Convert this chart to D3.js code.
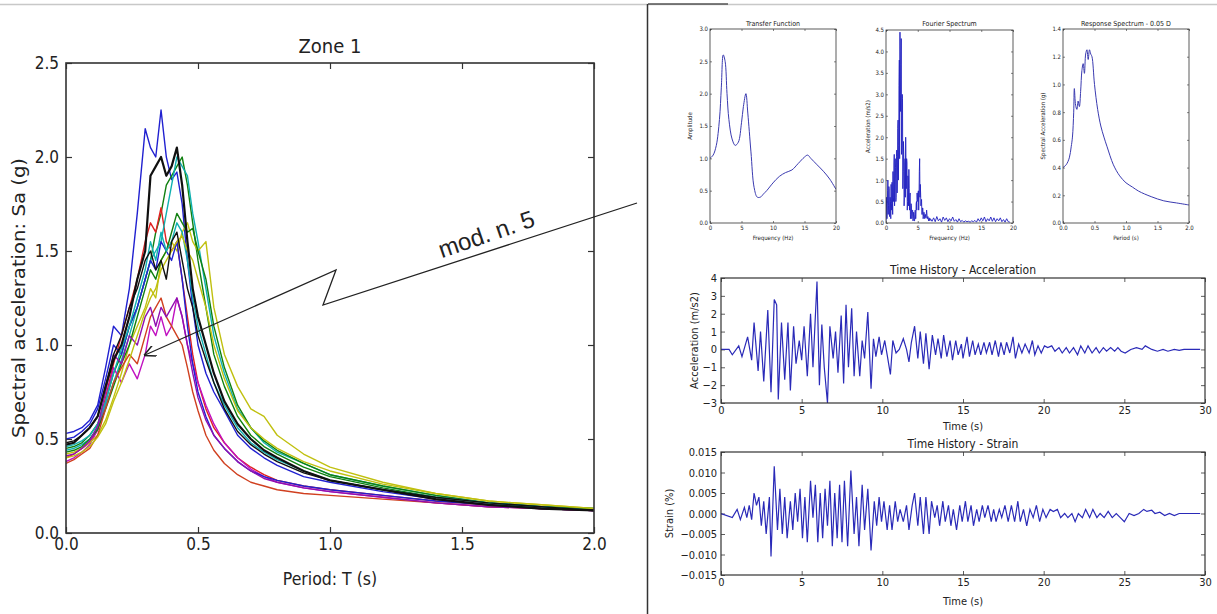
<!DOCTYPE html>
<html><head><meta charset="utf-8">
<script src="https://cdn.jsdelivr.net/npm/d3@7"></script>
<style>
body{margin:0;background:#fff;}
text{font-family:'DejaVu Sans Condensed','DejaVu Sans',sans-serif;fill:#222;}
</style></head>
<body>
<script>
// ---------- Zone 1 response spectra ----------
const periods = [0,0.03,0.06,0.09,0.12,0.15,0.18,0.21,0.24,0.27,0.30,0.32,0.34,0.36,0.38,0.40,0.42,0.44,0.46,0.48,0.50,0.53,0.56,0.60,0.65,0.70,0.75,0.80,0.90,1.0,1.2,1.4,1.6,1.8,2.0];
const s01 = [0.53,0.54,0.56,0.60,0.68,0.88,1.10,1.05,1.30,1.70,2.15,2.05,2.00,2.25,2.00,1.88,1.92,1.75,1.45,1.20,1.00,0.85,0.75,0.65,0.52,0.45,0.40,0.36,0.30,0.27,0.22,0.18,0.15,0.13,0.12];
const s02 = [0.45,0.46,0.48,0.52,0.58,0.70,0.85,0.95,1.10,1.20,1.35,1.45,1.60,1.70,1.85,1.90,1.95,2.00,1.85,1.65,1.45,1.20,0.95,0.78,0.62,0.52,0.46,0.42,0.35,0.30,0.24,0.19,0.16,0.14,0.12];
const s03 = [0.40,0.42,0.45,0.48,0.55,0.72,0.90,1.05,1.20,1.35,1.55,1.65,1.60,1.73,1.55,1.50,1.55,1.35,1.15,0.95,0.80,0.66,0.56,0.48,0.40,0.35,0.31,0.28,0.25,0.23,0.20,0.17,0.15,0.13,0.12];
const s04 = [0.44,0.45,0.47,0.50,0.56,0.68,0.80,0.92,1.05,1.20,1.35,1.45,1.50,1.55,1.70,1.85,2.00,1.95,1.90,1.70,1.55,1.30,1.05,0.85,0.66,0.56,0.48,0.43,0.37,0.31,0.25,0.20,0.16,0.14,0.13];
const s05 = [0.38,0.40,0.43,0.47,0.55,0.70,0.88,0.80,0.90,0.82,0.95,1.10,1.05,1.15,1.05,1.10,1.25,1.15,1.00,0.90,0.80,0.68,0.58,0.48,0.40,0.34,0.30,0.27,0.24,0.22,0.19,0.16,0.14,0.13,0.12];
const s06 = [0.42,0.43,0.45,0.48,0.52,0.60,0.72,0.85,1.00,1.10,1.20,1.30,1.25,1.45,1.50,1.55,1.50,1.60,1.65,1.55,1.50,1.55,1.20,0.95,0.78,0.66,0.62,0.52,0.42,0.35,0.27,0.21,0.17,0.15,0.13];
const s07 = [0.47,0.48,0.52,0.56,0.62,0.78,0.92,1.00,1.15,1.35,1.50,1.90,1.95,2.00,1.90,1.95,2.05,1.85,1.55,1.30,1.15,1.00,0.85,0.70,0.58,0.50,0.44,0.40,0.33,0.28,0.23,0.18,0.15,0.13,0.12];
const s08 = [0.50,0.51,0.54,0.58,0.66,0.82,1.00,0.95,1.10,1.20,1.35,1.45,1.40,1.55,1.50,1.45,1.55,1.35,1.10,0.90,0.75,0.62,0.52,0.45,0.38,0.33,0.30,0.28,0.25,0.23,0.20,0.17,0.15,0.13,0.12];
const s09 = [0.43,0.44,0.46,0.50,0.55,0.66,0.78,0.90,1.00,1.15,1.30,1.40,1.35,1.45,1.50,1.60,1.70,1.65,1.60,1.62,1.50,1.35,1.10,0.88,0.68,0.56,0.49,0.44,0.37,0.31,0.25,0.20,0.16,0.14,0.13];
const s10 = [0.37,0.39,0.42,0.45,0.52,0.66,0.80,0.88,0.95,0.90,1.05,1.15,1.20,1.25,1.15,1.10,1.05,1.00,0.88,0.75,0.65,0.52,0.44,0.37,0.31,0.27,0.25,0.23,0.21,0.20,0.18,0.16,0.14,0.13,0.12];
const s11 = [0.46,0.47,0.49,0.52,0.58,0.70,0.85,0.98,1.10,1.25,1.40,1.55,1.45,1.60,1.50,1.55,1.65,1.60,1.45,1.25,1.10,0.95,0.80,0.68,0.56,0.48,0.43,0.39,0.33,0.28,0.23,0.19,0.16,0.14,0.12];
const s12 = [0.41,0.42,0.45,0.49,0.57,0.75,0.95,0.90,1.05,1.00,1.15,1.20,1.10,1.20,1.15,1.20,1.25,1.15,1.00,0.85,0.72,0.60,0.52,0.45,0.38,0.33,0.29,0.27,0.24,0.22,0.19,0.16,0.14,0.13,0.12];
const s13 = [0.40,0.41,0.43,0.46,0.51,0.58,0.70,0.80,0.92,1.05,1.18,1.25,1.30,1.40,1.45,1.50,1.55,1.58,1.50,1.45,1.35,1.20,1.00,0.82,0.65,0.56,0.50,0.45,0.38,0.33,0.26,0.21,0.17,0.15,0.13];
const s14 = [0.48,0.49,0.52,0.56,0.62,0.78,0.95,1.05,1.20,1.30,1.45,1.50,1.40,1.45,1.35,1.55,1.60,1.45,1.30,1.20,1.05,0.92,0.80,0.66,0.54,0.47,0.42,0.38,0.32,0.28,0.23,0.19,0.16,0.14,0.12];
const zoneSeries = [s01,s02,s03,s04,s05,s06,s08,s09,s10,s11,s12,s13,s14,s07];
const zoneColors = ['#2020d0','#108010','#e02020','#10b0b0','#c010c0','#c0c010','#2020d0','#108010','#d04020','#10b0b0','#9010b0','#c0c010','#101010','#101010'];
const zoneTicks = [0,0.5,1.0,1.5,2.0];
const zoneYTicks = [0,0.5,1.0,1.5,2.0,2.5];

// ---------- Transfer function ----------
const tfFreq = [0,0.5,1,1.5,1.8,2.1,2.4,2.7,3,3.5,4,4.5,5,5.3,5.7,6,6.5,7,7.5,8,8.5,9,10,11,12,13,14,15,15.5,16,17,18,19,20];
const tfAmp  = [1.0,1.05,1.2,1.6,2.1,2.6,2.5,2.0,1.6,1.3,1.2,1.25,1.55,1.8,2.0,1.7,1.1,0.55,0.4,0.4,0.45,0.5,0.62,0.72,0.78,0.82,0.92,1.02,1.05,1.0,0.9,0.8,0.68,0.52];

// ---------- Fourier spectrum ----------
const fsFreq = [0,0.05,0.1,0.15,0.2,0.25,0.3,0.35,0.4,0.45,0.5,0.55,0.6,0.65,0.7,0.75,0.8,0.85,0.9,0.95,
  1,1.05,1.1,1.15,1.2,1.25,1.3,1.35,1.4,1.45,1.5,1.55,1.6,1.65,1.7,1.75,1.8,1.85,1.9,1.95,
  2,2.05,2.1,2.15,2.2,2.25,2.3,2.35,2.4,2.45,2.5,2.55,2.6,2.65,2.7,2.75,2.8,2.85,2.9,2.95,
  3,3.05,3.1,3.15,3.2,3.25,3.3,3.35,3.4,3.45,3.5,3.55,3.6,3.65,3.7,3.75,3.8,3.85,3.9,3.95,
  4,4.05,4.1,4.15,4.2,4.25,4.3,4.35,4.4,4.45,4.5,4.55,4.6,4.65,4.7,4.75,4.8,4.85,4.9,4.95,
  5,5.05,5.1,5.15,5.2,5.25,5.3,5.35,5.4,5.45,5.5,5.55,5.6,5.65,5.7,5.75,5.8,5.85,5.9,5.95,
  6,6.1,6.2,6.3,6.4,6.5,6.6,6.7,6.8,6.9,7.0,
  7.25,7.5,7.75,8,8.25,8.5,8.75,9,9.25,9.5,9.75,10,10.25,10.5,10.75,11,11.25,11.5,11.75,12,12.25,12.5,12.75,13,13.25,13.5,13.75,14,14.25,14.5,14.75,15,15.25,15.5,15.75,16,16.25,16.5,16.75,17,17.25,17.5,17.75,18,18.25,18.5,18.75,19,19.25,19.5];
const fsAmp = [0.05,0.35,0.6,0.1,0.3,0.75,1.0,0.2,0.4,0.85,0.8,0.15,0.2,0.6,0.5,0.1,0.9,0.45,0.3,0.95,
  0.7,0.2,1.2,0.6,0.5,1.4,1.6,0.4,0.9,1.5,1.3,0.5,0.6,1.55,1.7,0.7,1.0,2.2,2.4,1.0,
  1.8,3.2,3.8,1.5,4.45,3.0,2.6,3.7,4.3,1.6,1.8,3.0,2.9,0.8,1.2,1.9,1.6,0.4,0.6,1.4,
  1.5,0.6,2.0,1.2,0.8,1.5,1.4,0.3,0.5,1.1,1.0,0.4,1.25,0.8,0.3,0.6,0.7,0.1,0.2,0.45,
  0.4,0.1,0.15,0.3,0.3,0.05,0.1,0.25,0.2,0.05,0.05,0.2,0.3,0.1,0.1,0.45,0.5,0.3,0.7,0.55,
  0.5,0.7,0.75,0.3,0.6,1.2,1.5,0.6,0.9,0.7,0.4,0.5,0.55,0.2,0.2,0.35,0.35,0.1,0.15,0.25,
  0.25,0.1,0.2,0.12,0.3,0.1,0.15,0.05,0.12,0.05,0.1,
  0.04,0.12,0.03,0.15,0.05,0.1,0.02,0.14,0.06,0.12,0.03,0.1,0.05,0.14,0.04,0.08,0.02,0.1,0.03,0.06,0.02,0.05,0.03,0.04,0.02,0.05,0.03,0.06,0.02,0.1,0.04,0.12,0.05,0.14,0.03,0.1,0.05,0.14,0.04,0.12,0.03,0.1,0.05,0.12,0.03,0.08,0.02,0.1,0.03,0.02];

// ---------- Response spectrum 0.05 D ----------
const rsPeriod = [0,0.05,0.1,0.13,0.15,0.17,0.18,0.2,0.22,0.24,0.26,0.28,0.3,0.32,0.34,0.36,0.38,0.4,0.42,0.44,0.46,0.5,0.55,0.6,0.65,0.7,0.8,0.9,1.0,1.1,1.2,1.4,1.6,1.8,2.0];
const rsSa = [0.40,0.42,0.47,0.55,0.62,0.80,0.97,0.85,0.82,0.88,0.84,0.95,1.10,1.15,1.08,1.22,1.25,1.18,1.25,1.22,1.20,1.00,0.82,0.70,0.62,0.55,0.42,0.34,0.29,0.26,0.23,0.19,0.16,0.145,0.13];

// ---------- Time history: acceleration (extrema) ----------
const accTime = [0,0.5,0.7,1.1,1.3,1.65,1.9,2.05,2.3,2.45,2.65,2.9,3.1,3.3,3.45,3.55,3.75,3.95,4.15,4.3,4.5,4.65,4.85,5.0,5.15,5.35,5.55,5.7,5.95,6.1,6.25,6.4,6.6,6.75,6.95,7.1,7.25,7.45,7.6,7.75,7.9,8.1,8.25,8.4,8.6,8.75,8.9,9.1,9.3,9.45,9.6,9.8,9.95,10.15,10.3,10.5,10.65,10.85,11.05,11.3,11.5,11.65,11.8,12.0,12.2,12.35,12.55,12.7,12.9,13.1,13.3,13.45,13.65,13.8,14.0,14.2,14.35,14.55,14.7,14.9,15.0,15.25,15.4,15.6,15.75,15.95,16.1,16.3,16.45,16.65,16.8,17.0,17.2,17.35,17.55,17.7,17.9,18.1,18.25,18.45,18.65,18.85,19.1,19.3,19.45,19.65,19.85,20.05,20.25,20.5,20.7,20.95,21.15,21.4,21.6,21.85,22.1,22.3,22.55,22.75,23.0,23.25,23.45,23.7,23.9,24.15,24.4,24.6,24.8,25.05,25.4,25.75,26.1,26.3,26.7,27.05,27.4,27.7,28.1,28.4,28.7,29.7];
const accVal  = [0,0,-0.3,0.2,-0.4,0.7,-0.6,1.5,-1.2,1.0,-1.8,2.2,-2.4,2.8,2.5,-2.8,1.5,-1.7,1.5,-2.3,1.3,-0.8,0.5,-0.6,1.3,-1.5,2.0,-1.0,3.8,-2.0,1.4,-1.0,-3.0,1.3,-0.5,1.0,-1.3,1.9,-1.9,2.5,-1.0,2.3,-1.5,1.0,-1.5,0.5,-0.5,2.1,-2.2,0.6,-0.4,0.7,-0.3,0.5,-0.3,-1.4,0.5,-0.2,0.0,0.6,0.0,-0.7,0.4,1.3,-0.5,1.0,-0.8,0.9,-1.1,0.8,-0.3,0.6,-0.5,0.8,-0.4,0.5,-0.6,0.5,-0.3,0.3,-0.5,0.7,-0.4,0.5,-0.3,0.3,-0.3,0.4,-0.2,0.4,-0.3,0.5,-0.4,0.4,-0.3,0.4,-0.2,0.7,-0.5,0.3,-0.2,0.3,-0.2,0.5,-0.3,0.2,-0.2,0.2,0.1,0.2,-0.1,0.1,-0.2,0.1,-0.2,0.1,-0.3,0.2,-0.2,0.2,-0.2,0.1,-0.2,0.1,-0.1,0.1,-0.1,0.1,-0.1,-0.2,0.0,0.1,0.0,0.2,0.0,-0.1,0.0,-0.1,0.0,-0.05,0.0,0.0];

// ---------- Time history: strain (extrema) ----------
const strTime = [0,0.7,1.0,1.2,1.45,1.6,1.75,1.9,2.05,2.2,2.35,2.5,2.65,2.8,3.0,3.1,3.3,3.5,3.65,3.8,3.95,4.1,4.3,4.45,4.6,4.75,4.9,5.05,5.2,5.35,5.55,5.7,5.85,6.0,6.15,6.3,6.45,6.6,6.75,6.9,7.05,7.2,7.35,7.5,7.65,7.85,8.05,8.25,8.4,8.55,8.75,8.9,9.1,9.3,9.5,9.65,9.8,9.95,10.1,10.3,10.45,10.6,10.8,10.95,11.1,11.3,11.5,11.65,11.85,12.0,12.2,12.35,12.55,12.7,12.9,13.05,13.25,13.4,13.55,13.75,13.9,14.1,14.25,14.4,14.6,14.8,14.95,15.15,15.3,15.5,15.65,15.85,16.0,16.2,16.35,16.55,16.75,16.9,17.05,17.25,17.4,17.6,17.8,18.0,18.2,18.4,18.55,18.75,18.95,19.15,19.35,19.55,19.75,19.95,20.15,20.4,20.6,20.85,21.05,21.3,21.5,21.75,21.95,22.15,22.4,22.6,22.85,23.05,23.3,23.5,23.75,24.0,24.25,24.5,24.75,25.0,25.3,25.6,25.9,26.2,26.4,26.7,26.9,27.2,27.5,27.8,28.1,28.4,29.7];
const strVal  = [0,-0.001,0.001,-0.0015,0.0015,-0.001,0.002,-0.0015,0.005,0.002,0.004,-0.003,0.003,-0.005,0.004,-0.0105,0.0115,-0.004,0.006,-0.005,0.004,-0.006,0.003,-0.004,0.005,-0.002,0.006,-0.006,0.004,-0.007,0.008,-0.001,0.007,-0.007,0.005,-0.006,0.006,-0.003,0.008,-0.008,0.005,-0.006,0.007,-0.007,0.008,-0.008,0.0105,-0.005,0.004,-0.008,0.007,-0.004,0.006,-0.009,0.003,-0.003,0.004,-0.002,0.003,-0.004,0.002,-0.004,0.003,-0.002,0.001,-0.002,0.002,-0.004,0.002,0.005,-0.003,0.004,-0.005,0.004,-0.005,0.003,-0.001,0.002,-0.003,0.003,-0.002,0.002,-0.003,0.001,-0.004,0.002,-0.002,0.003,-0.002,0.002,-0.003,0.001,-0.002,0.002,-0.001,0.002,-0.002,0.001,-0.002,0.001,-0.001,0.002,-0.002,0.002,-0.002,0.003,-0.002,0.001,-0.003,0.001,-0.001,0.002,-0.002,0.001,-0.001,0.001,0.0005,0.001,-0.001,0,-0.001,0,-0.002,0,-0.001,0.001,-0.001,0.001,-0.001,0,-0.001,0.0005,-0.001,0,-0.001,-0.002,0,-0.0005,0,0.001,0.0005,0.0008,0,0.0003,-0.0005,0,-0.0005,0,0];

const svg = d3.select('body').append('svg').attr('width',1217).attr('height',614);

// page frame fragments
svg.append('line').attr('x1',0).attr('x2',1217).attr('y1',4.5).attr('y2',4.5).attr('stroke','#c8c8c8').attr('stroke-width',1.5);
svg.append('line').attr('x1',648).attr('x2',728).attr('y1',4).attr('y2',4).attr('stroke','#555').attr('stroke-width',1.5);
svg.append('line').attr('x1',647.5).attr('x2',647.5).attr('y1',4).attr('y2',614).attr('stroke','#333').attr('stroke-width',1.5);
svg.append('text').attr('x',-3).attr('y',-6).attr('font-size',14).text('g');

let clipId = 0;
function panel(o){
  const x = d3.scaleLinear().domain(o.xd).range([o.l,o.r]);
  const y = d3.scaleLinear().domain(o.yd).range([o.b,o.t]);
  const g = svg.append('g');
  const id = 'c'+(clipId++);
  svg.append('clipPath').attr('id',id).append('rect').attr('x',o.l).attr('y',o.t).attr('width',o.r-o.l).attr('height',o.b-o.t);
  const style = sel => {
    sel.select('.domain').remove();
    sel.selectAll('line').attr('stroke','#333').attr('stroke-width',o.tw||1);
    sel.selectAll('text').attr('font-size',o.fs).attr('fill','#1e1e1e').style('font-family',"'DejaVu Sans Condensed','DejaVu Sans',sans-serif");
  };
  g.append('g').attr('transform',`translate(0,${o.b})`)
    .call(d3.axisBottom(x).tickValues(o.xt).tickFormat(o.xf).tickSizeInner(-o.tl).tickSizeOuter(0).tickPadding(o.xp)).call(style);
  g.append('g').attr('transform',`translate(0,${o.t})`)
    .call(d3.axisTop(x).tickValues(o.xt).tickFormat('').tickSizeInner(-o.tl).tickSizeOuter(0)).call(style);
  g.append('g').attr('transform',`translate(${o.l},0)`)
    .call(d3.axisLeft(y).tickValues(o.yt).tickFormat(o.yf).tickSizeInner(-o.tl).tickSizeOuter(0).tickPadding(o.yp)).call(style);
  g.append('g').attr('transform',`translate(${o.r},0)`)
    .call(d3.axisRight(y).tickValues(o.yt).tickFormat('').tickSizeInner(-o.tl).tickSizeOuter(0)).call(style);
  const lines = g.append('g').attr('clip-path',`url(#${id})`);
  g.append('rect').attr('x',o.l).attr('y',o.t).attr('width',o.r-o.l).attr('height',o.b-o.t)
    .attr('fill','none').attr('stroke','#333').attr('stroke-width',o.fw||1);
  if(o.title) g.append('text').attr('x',(o.l+o.r)/2).attr('y',o.titleY).attr('text-anchor','middle').attr('font-size',o.tfs).text(o.title);
  if(o.xlabel) g.append('text').attr('x',(o.l+o.r)/2).attr('y',o.xlY).attr('text-anchor','middle').attr('font-size',o.lfs).text(o.xlabel);
  if(o.ylabel) g.append('text').attr('transform',`translate(${o.ylX},${(o.t+o.b)/2}) rotate(-90) scale(${o.ylS||1},1)`).attr('text-anchor','middle').attr('font-size',o.lfs).text(o.ylabel);
  return {x,y,lines};
}

// ---------- main chart ----------
const f1 = d3.format('.1f');
const main = panel({l:66,r:594,t:63,b:533,xd:[0,2],yd:[0,2.5],xt:zoneTicks,yt:zoneYTicks,xf:f1,yf:f1,
  tl:6,xp:5,yp:7,fs:17,tw:1.2,fw:1.6,title:'Zone 1',titleY:53,tfs:20,xlabel:'Period: T (s)',xlY:585,ylabel:'Spectral acceleration: Sa (g)',ylX:25,ylS:1.25,lfs:17.5});
zoneSeries.forEach((s,i)=>{
  main.lines.append('path').datum(s).attr('fill','none').attr('stroke',zoneColors[i])
    .attr('stroke-width', i===zoneSeries.length-1?2.2:1.4).attr('stroke-linejoin','round')
    .attr('d',d3.line().x((d,j)=>main.x(periods[j])).y(d=>main.y(d)));
});

// annotation arrow
const defs = svg.append('defs');
defs.append('marker').attr('id','ah').attr('viewBox','0 0 10 10').attr('refX',9).attr('refY',5)
  .attr('markerWidth',9).attr('markerHeight',9).attr('orient','auto')
  .append('path').attr('d','M0,0 L10,5 L0,10').attr('fill','none').attr('stroke','#222').attr('stroke-width',1.3);
svg.append('polyline').attr('points','637,203 323,305 336,270 145,355').attr('fill','none')
  .attr('stroke','#222').attr('stroke-width',1.3).attr('marker-end','url(#ah)');
svg.append('text').attr('transform','translate(489,242) rotate(-19)').attr('text-anchor','middle')
  .attr('font-size',24).style('font-family',"'Liberation Sans',Arial,sans-serif").text('mod. n. 5');

// ---------- small panels ----------
const small = {tl:2,xp:3,yp:2,fs:6,tw:0.6,fw:0.8,tfs:7,lfs:6};
const smooth = d3.curveCatmullRom.alpha(0.5);
const tf = panel(Object.assign({},small,{l:710,r:836,t:29,b:223,xd:[0,20],yd:[0,3],xt:[0,5,10,15,20],yt:[0,0.5,1,1.5,2,2.5,3],
  xf:d3.format('d'),yf:f1,title:'Transfer Function',titleY:26,xlabel:'Frequency (Hz)',xlY:240,ylabel:'Amplitude',ylX:692}));
tf.lines.append('path').datum(tfAmp).attr('fill','none').attr('stroke','#3a3ab0').attr('stroke-width',1)
  .attr('d',d3.line().curve(smooth).x((d,j)=>tf.x(tfFreq[j])).y(d=>tf.y(d)));

const fsp = panel(Object.assign({},small,{l:886,r:1013,t:30,b:223,xd:[0,20],yd:[0,4.5],xt:[0,5,10,15,20],yt:[0,0.5,1,1.5,2,2.5,3,3.5,4,4.5],
  xf:d3.format('d'),yf:f1,title:'Fourier Spectrum',titleY:26,xlabel:'Frequency (Hz)',xlY:240,ylabel:'Acceleration (m/s2)',ylX:870}));
fsp.lines.append('path').datum(fsAmp).attr('fill','none').attr('stroke','#2020c0').attr('stroke-width',0.9)
  .attr('d',d3.line().x((d,j)=>fsp.x(fsFreq[j])).y(d=>fsp.y(d)));

const rs = panel(Object.assign({},small,{l:1063,r:1189,t:29,b:223,xd:[0,2],yd:[0,1.4],xt:[0,0.5,1,1.5,2],yt:[0,0.2,0.4,0.6,0.8,1.0,1.2,1.4],
  xf:f1,yf:f1,title:'Response Spectrum - 0.05 D',titleY:26,xlabel:'Period (s)',xlY:240,ylabel:'Spectral Acceleration (g)',ylX:1045}));
rs.lines.append('path').datum(rsSa).attr('fill','none').attr('stroke','#3a3ab0').attr('stroke-width',1)
  .attr('d',d3.line().curve(smooth).x((d,j)=>rs.x(rsPeriod[j])).y(d=>rs.y(d)));

// ---------- time histories ----------
const th = {tl:4,xp:3,yp:4,fs:11,tw:0.8,fw:1.2,tfs:12,lfs:11};
const acc = panel(Object.assign({},th,{l:721,r:1205,t:278,b:403,xd:[0,30],yd:[-3,4],xt:[0,5,10,15,20,25,30],yt:[-3,-2,-1,0,1,2,3,4],
  xf:d3.format('d'),yf:d3.format('d'),title:'Time History - Acceleration',titleY:274,xlabel:'Time (s)',xlY:430,ylabel:'Acceleration (m/s2)',ylX:698}));
acc.lines.append('path').datum(accVal).attr('fill','none').attr('stroke','#2a2ab8').attr('stroke-width',1.2)
  .attr('d',d3.line().x((d,j)=>acc.x(accTime[j])).y(d=>acc.y(d)));

const str = panel(Object.assign({},th,{l:721,r:1205,t:452,b:575,xd:[0,30],yd:[-0.015,0.015],xt:[0,5,10,15,20,25,30],yt:[-0.015,-0.01,-0.005,0,0.005,0.01,0.015],
  xf:d3.format('d'),yf:d3.format('.3f'),title:'Time History - Strain',titleY:448,xlabel:'Time (s)',xlY:605,ylabel:'Strain (%)',ylX:673}));
str.lines.append('path').datum(strVal).attr('fill','none').attr('stroke','#2a2ab8').attr('stroke-width',1.2)
  .attr('d',d3.line().x((d,j)=>str.x(strTime[j])).y(d=>str.y(d)));
</script>
</body></html>
